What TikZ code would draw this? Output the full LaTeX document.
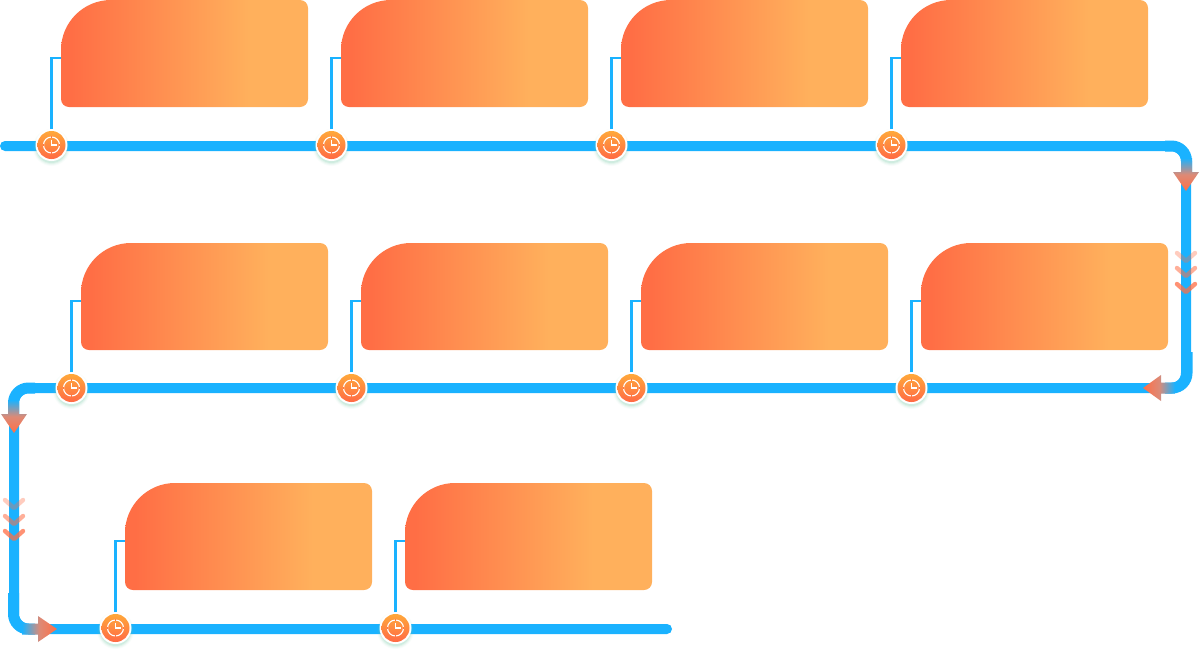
\documentclass[tikz,border=0pt]{standalone}
\usepackage{tikz}
\usetikzlibrary{calc,positioning}

\definecolor{railblue}{HTML}{1AB2FF}
\definecolor{cardorange}{HTML}{FF6E45}
\definecolor{cardsand}{HTML}{FFB05C}
\definecolor{arrowgrey}{HTML}{DD8A76}
\definecolor{dotlight}{HTML}{FFA83A}
\definecolor{dotdark}{HTML}{FF6A45}
\definecolor{dotshadow}{HTML}{7CCBAA}

\pgfdeclarehorizontalshading{cardfade}{100bp}{
	color(0bp)=(cardorange); color(27bp)=(cardorange);
	color(63bp)=(cardsand); color(100bp)=(cardsand)}

\tikzset{
	rail/.style={line width=10pt, color=railblue, line cap=round, rounded corners=15pt},
	railbend/.style={line width=11pt, color=railblue, rounded corners=15pt},
	stem/.style={line width=2.6pt, color=railblue},
	cardbox/.style={minimum width=247pt, minimum height=107pt, inner sep=0pt, outer sep=0pt, anchor=north west},
	stopdot/.style={circle, fill=white, minimum size=32pt, inner sep=0pt, outer sep=0pt},
	clockline/.style={line width=1.1pt, color=white},
	chevron/.style={line width=4.4pt, color=cardorange, line cap=round, line join=round}
}

% stop on the rail with its card: name, stop position, card corner
\def\stopcard[#1](#2,#3)(#4,#5){
	\foreach \r/\o in {18.5/0.05, 17.5/0.08, 16.5/0.12, 15.5/0.18}
		\fill[dotshadow, opacity=\o] (#2,#3+2.5) circle (\r pt);
	\node[stopdot] (#1) at (#2,#3) {};
	\shade[top color=dotlight, bottom color=dotdark] (#1) circle (14pt);
	\draw[clockline] (#1) circle (8pt);
	\draw[clockline] (#1.center) ++(0,-5.5) -- (#1.center) -- ++(5.5,0);
	\draw[color=dotdark!80!dotlight, line width=1.2pt] ($(#1)+(8.6,0)$) -- ++(-1.4,0) ($(#1)+(-8.6,0)$) -- ++(1.4,0) ($(#1)+(0,8.6)$) -- ++(0,-1.4) ($(#1)+(0,-8.6)$) -- ++(0,1.4);
	\node[cardbox] (#1box) at (#4,#5) {};
	\draw[stem] (#1.north) |- ($(#1box.west)+(0,4.5)$);
	\shade[shading=cardfade] (#1box.north) [rounded corners=8pt] -- (#1box.north east) -- (#1box.south east) -- (#1box.south west) [rounded corners=50pt] -- (#1box.north west) -- cycle;
}

\begin{document}
\begin{tikzpicture}[x=1pt, y=-1pt]
	%%%%% START %%%%%
	\useasboundingbox (0,0) rectangle (1200,651);
	
	\coordinate (railstart) at (5,146);
	\coordinate (bendne) at (1186,146);
	\coordinate (bendse) at (1186,388);
	\coordinate (bendnw) at (14,388);
	\coordinate (bendsw) at (14,629);
	\coordinate (railend) at (667,629);
	
	\draw[rail] (railstart) -- (bendne) -- (bendse) -- (bendnw) -- (bendsw) -- (railend);
	
	% corners sit a little wider than the straight runs
	\draw[railbend] (1165,146) -- (1186.5,146) -- (1186.5,172);
	\draw[railbend] (1187,352) -- (1187,388) -- (1165,388);
	\draw[railbend] (13.5,414) -- (13.5,388) -- (35,388);
	\draw[railbend] (13.5,593) -- (13.5,629) -- (35,629);
	
	% arrows fading out of the rail
	\shade[top color=railblue, bottom color=cardorange, middle color=arrowgrey]
		(1181,158) -- (1192,158) -- (1192,172) -- (1199,172) -- (1186,191) -- (1173,172) -- (1181,172) -- cycle;
	\shade[left color=cardorange, right color=railblue, middle color=arrowgrey]
		(1143,388) -- (1161,375) -- (1161,382.5) -- (1175,382.5) -- (1175,393.5) -- (1161,393.5) -- (1161,401) -- cycle;
	\shade[top color=railblue, bottom color=cardorange, middle color=arrowgrey]
		(8,400) -- (19,400) -- (19,414) -- (27,414) -- (14,433) -- (1,414) -- (8,414) -- cycle;
	\shade[left color=railblue, right color=cardorange, middle color=arrowgrey]
		(22,623.5) -- (38,623.5) -- (38,616) -- (57,629) -- (38,642) -- (38,634.5) -- (22,634.5) -- cycle;
	
	% chevrons
	\draw[chevron, opacity=0.35] (1177,253) -- (1186,261) -- (1195,253);
	\draw[chevron, opacity=0.55] (1177,268) -- (1186,276) -- (1195,268);
	\draw[chevron, opacity=0.75] (1177,284) -- (1186,292) -- (1195,284);
	\draw[chevron, opacity=0.35] (5,500) -- (14,508) -- (23,500);
	\draw[chevron, opacity=0.55] (5,516) -- (14,524) -- (23,516);
	\draw[chevron, opacity=0.75] (5,531) -- (14,539) -- (23,531);
	
	\stopcard[stopa](51.5,145)(61,0)
	\stopcard[stopb](331.5,145)(341,0)
	\stopcard[stopc](611.5,145)(621,0)
	\stopcard[stopd](891.5,145)(901,0)
	
	\stopcard[stope](71.5,388)(81,243)
	\stopcard[stopf](351.5,388)(361,243)
	\stopcard[stopg](631.5,388)(641,243)
	\stopcard[stoph](911.5,388)(921,243)
	
	\stopcard[stopi](115.5,628)(125,483)
	\stopcard[stopj](395.5,628)(405,483)
	
	%%%%% END %%%%%
\end{tikzpicture}
\end{document}
